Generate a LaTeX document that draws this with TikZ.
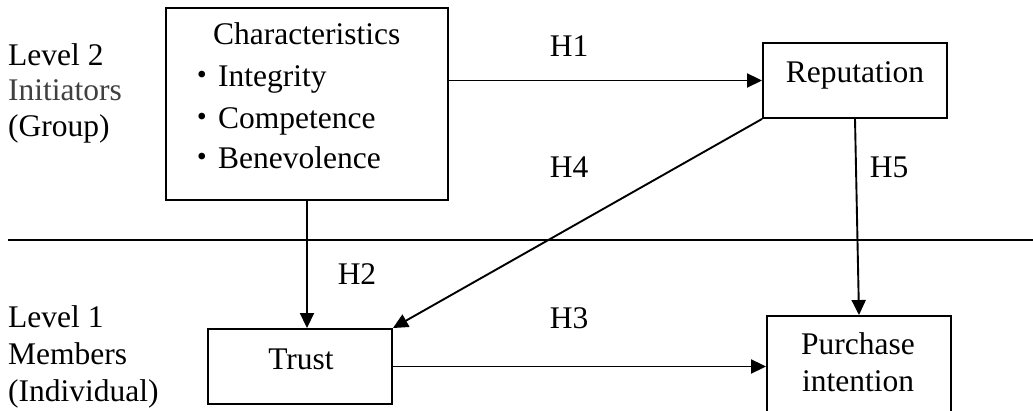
\documentclass[tikz,border=0pt]{standalone}
\usepackage{fontspec}
\setmainfont{Liberation Serif}
\newfontfamily\cjk{Noto Sans CJK JP}
\usetikzlibrary{arrows.meta}
\definecolor{initgray}{HTML}{404040}
\begin{document}
\begin{tikzpicture}[x=1pt,y=1pt,
  boxnode/.style={draw,line width=1.9pt,inner sep=0pt,anchor=center},
  txt/.style={inner sep=0pt,anchor=base west,font=\fontsize{31.5}{36}\selectfont},
  ctxt/.style={inner sep=0pt,anchor=base,font=\fontsize{31.5}{36}\selectfont},
  conn/.style={line width=1.9pt,-{Triangle[length=15pt,width=14pt]}}]
\useasboundingbox (0,0) rectangle (1033,411);
\clip (0,0) rectangle (1033,411);
% boxes
\node[boxnode,minimum width=282pt,minimum height=192pt] (char) at (307,307) {};
\node[boxnode,minimum width=184pt,minimum height=75pt] (rep) at (855,330.5) {};
\node[boxnode,minimum width=184pt,minimum height=75pt] (trust) at (300,44.5) {};
\node[boxnode,minimum width=184pt,minimum height=120pt] (pur) at (859,35) {};
% box texts
\node[txt] (charT) at (213,366) {Characteristics};
\node[txt] (b1) at (186.5,324) {{\cjk ・}Integrity};
\node[txt] (b2) at (186.5,282) {{\cjk ・}Competence};
\node[txt] (b3) at (186.5,242) {{\cjk ・}Benevolence};
\node[ctxt] (repT) at (855,328) {Reputation};
\node[ctxt] (trustT) at (301,41) {Trust};
\node[ctxt] (purT1) at (858,56) {Purchase};
\node[ctxt] (purT2) at (858,19) {intention};
% level labels
\node[txt] (l2a) at (8,345) {Level 2};
\node[txt,text=initgray] (l2b) at (8,310) {Initiators};
\node[txt] (l2c) at (8,274) {(Group)};
\node[txt] (l1a) at (8,83) {Level 1};
\node[txt] (l1b) at (8,46) {Members};
\node[txt] (l1c) at (8,9) {(Individual)};
% separator
\coordinate (sepL) at (8,171);
\coordinate (sepR) at (1033,171);
\draw[line width=1.9pt] (sepL) -- (sepR);
% connectors
\draw[conn] (rep.west -| char.east) -- (rep.west);
\draw[conn] (char.south) -- (char.south |- trust.north);
\draw[conn] (rep.south west) -- (trust.north east);
\draw[conn] (rep.south) -- (pur.north);
\draw[conn] (trust.east) -- (trust.east -| pur.west);
% hypothesis labels
\node[ctxt] (h1) at (569,354) {H1};
\node[ctxt] (h4) at (569,233) {H4};
\node[ctxt] (h5) at (889,233) {H5};
\node[ctxt] (h2) at (357,126) {H2};
\node[ctxt] (h3) at (569,82) {H3};
\end{tikzpicture}
\end{document}
